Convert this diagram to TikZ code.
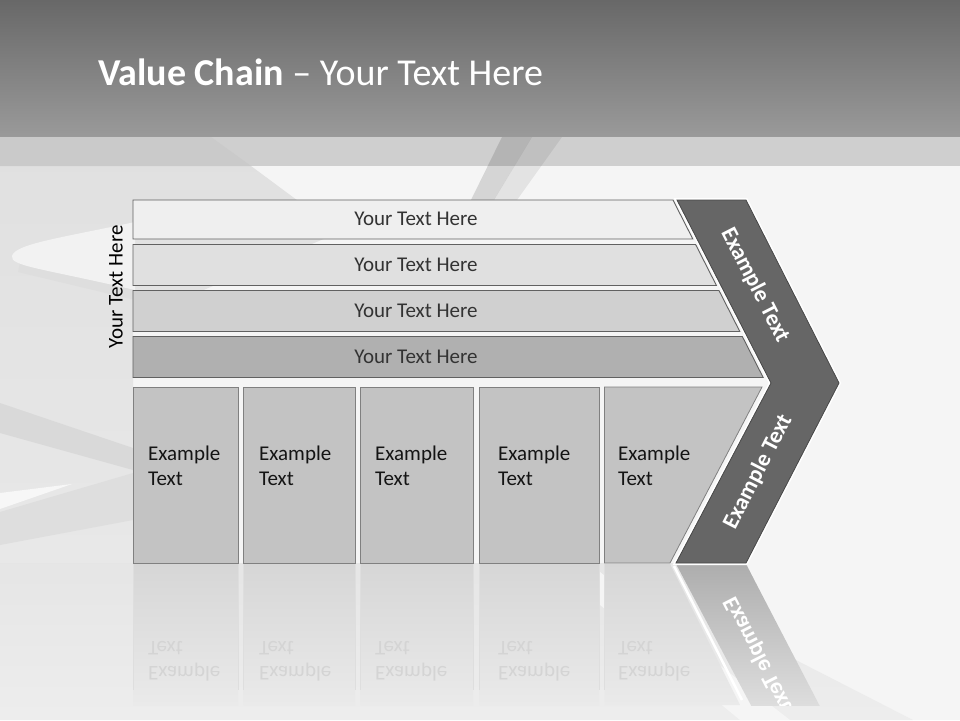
\documentclass[tikz,border=0pt]{standalone}
\usepackage{fontspec}
\setmainfont{Carlito}
\definecolor{bgbase}{HTML}{F5F5F5}
\definecolor{bgband}{HTML}{CFCFCF}
\definecolor{bandleft}{HTML}{CACACA}
\definecolor{titletop}{HTML}{686868}
\definecolor{titlebot}{HTML}{9A9A9A}
\definecolor{barA}{HTML}{EFEFEF}
\definecolor{barB}{HTML}{E0E0E0}
\definecolor{barC}{HTML}{D0D0D0}
\definecolor{barD}{HTML}{B0B0B0}
\definecolor{boxgray}{HTML}{C3C3C3}
\definecolor{chev}{HTML}{666666}
\definecolor{reflbg}{HTML}{EAEAEA}
\begin{document}
\begin{tikzpicture}[x=1pt,y=-1pt,
  barshape/.style={draw=black!62, line width=0.9pt},
  boxshape/.style={draw=black!50, fill=boxgray, line width=0.8pt},
  bartext/.style={text=black!80, inner sep=0, font=\fontsize{21}{25}\selectfont},
  boxtext/.style={anchor=base west, inner sep=0, text=black!92, font=\fontsize{21}{25}\selectfont},
  refltext/.style={anchor=base west, inner sep=0, yscale=-1, text=black!17, font=\fontsize{21}{25}\selectfont},
  chevtext/.style={text=white, inner sep=0, font=\bfseries\fontsize{23}{28}\selectfont},
  refl/.style={top color=black!16, bottom color=reflbg},
  reflline/.style={draw=black!13, line width=0.8pt}
]
\useasboundingbox (0,0) rectangle (960,720);
% ---------- background ----------
\fill[bgbase] (0,137) rectangle (960,720);
\shade[top color=black!12, bottom color=black!9] (0,166) -- (251,166) -- (340,232) -- (133,320) -- (133,563) -- (0,563) -- cycle;
% tongue swoosh
\fill[black!13] (135,284) -- (20,262) -- (18,272) -- (135,300) -- cycle;
\fill[black!5] (135,222) .. controls (60,238) and (15,244) .. (12,256) .. controls (10,266) and (40,268) .. (135,290) -- cycle;
% lower-left bands
\fill[black!15] (0,403) -- (133,448) -- (133,470) -- (0,433) -- cycle;
\fill[black!13] (0,512) -- (133,473) -- (133,520) -- (0,545) -- cycle;
\fill[black!3] (0,493) -- (72,484) -- (0,509) -- cycle;
% bottom area
\shade[top color=black!10, bottom color=black!7] (0,563) -- (746,563) -- (790,657) -- (913,720) -- (0,720) -- cycle;
\fill[black!4] (560,572) -- (600,572) -- (790,720) -- (740,720) -- cycle;
% ---------- title ----------
\shade[top color=titletop, bottom color=titlebot] (0,0) rectangle (960,137);
\fill[bgband] (0,137) rectangle (960,166);
\fill[bandleft] (0,137) -- (211,137) -- (251,166) -- (0,166) -- cycle;
% ribbon at top centre
\fill[black, opacity=0.13] (502,137) -- (532,137) -- (494,200) -- (471,200) -- cycle;
\fill[black, opacity=0.07] (532,137) -- (562,137) -- (517,200) -- (494,200) -- cycle;
\node[anchor=base west, inner sep=0, text=white, font=\fontsize{38}{42}\selectfont] (title) at (98,85) {\textbf{Value Chain} – Your Text Here};
% ---------- reflections ----------
\begin{scope}
\clip (0,564) rectangle (960,705);
\foreach \i/\xa/\xb in {1/133/238, 2/243.5/355, 3/360.5/473, 4/479.5/599} {
  \shade[refl] (\xa,564) rectangle (\xb,705);
  \draw[reflline] (\xa,564) -- (\xa,690);
  \draw[reflline] (\xb,564) -- (\xb,690);
}
\shade[refl] (604.5,564) -- (670,564) -- (740,705) -- (604.5,705) -- cycle;
\draw[reflline] (604.5,564) -- (604.5,690);
% chevron reflection
\shade[top color=black!32, bottom color=reflbg] (676,564) -- (746,564) -- (839,743) -- (771,743) -- cycle;
\draw[white, line width=2.5pt] (674,566) -- (742,700);
\node[chevtext, yscale=-1, rotate=62.9] (rchev) at (758,654) {Example Text};
\end{scope}
\foreach \i/\x in {1/148, 2/259, 3/375, 4/498, 5/618} {
  \node[refltext] (rt\i) at (\x,641) {Text};
  \node[refltext] (re\i) at (\x,666) {Example};
}
% ---------- bars ----------
\foreach \i/\t/\b/\c in {1/200/239/barA, 2/244.5/285.5/barB, 3/290.5/331.5/barC, 4/336.5/377.5/barD} {
  \draw[barshape, fill=\c] (133,\t) -- ({673+0.508*(\t-200)},\t) -- ({673+0.508*(\b-200)},\b) -- (133,\b) -- cycle;
  \node[bartext] (bt\i) at (416,{(\t+\b)/2-0.5}) {Your Text Here};
}
% ---------- boxes ----------
\foreach \i/\xa/\xb in {1/133/238, 2/243.5/355, 3/360.5/473, 4/479.5/599} {
  \draw[boxshape] (\xa,387) rectangle (\xb,563);
}
\draw[boxshape] (604.5,387) -- (762,387) -- (670,563) -- (604.5,563) -- cycle;
\foreach \i/\x in {1/148, 2/259, 3/375, 4/498, 5/618} {
  \node[boxtext] (ex\i) at (\x,460) {Example};
  \node[boxtext] (tx\i) at (\x,485) {Text};
}
% ---------- chevron ----------
\draw[white, line width=4pt, line join=miter] (677,200) -- (746,200) -- (839,383) -- (746,563) -- (676,563) -- (771,383) -- cycle;
\draw[draw=black!72, fill=chev, line width=0.8pt, line join=miter] (677,200) -- (746,200) -- (839,383) -- (746,563) -- (676,563) -- (771,383) -- cycle;
\node[chevtext, rotate=-62.9] (chup) at (755,285) {Example Text};
\node[chevtext, rotate=62.9] (chdn) at (758,472) {Example Text};
% ---------- side label ----------
\node[rotate=90, inner sep=0, font=\fontsize{21}{25}\selectfont] (side) at (116,287) {Your Text Here};
\end{tikzpicture}
\end{document}
